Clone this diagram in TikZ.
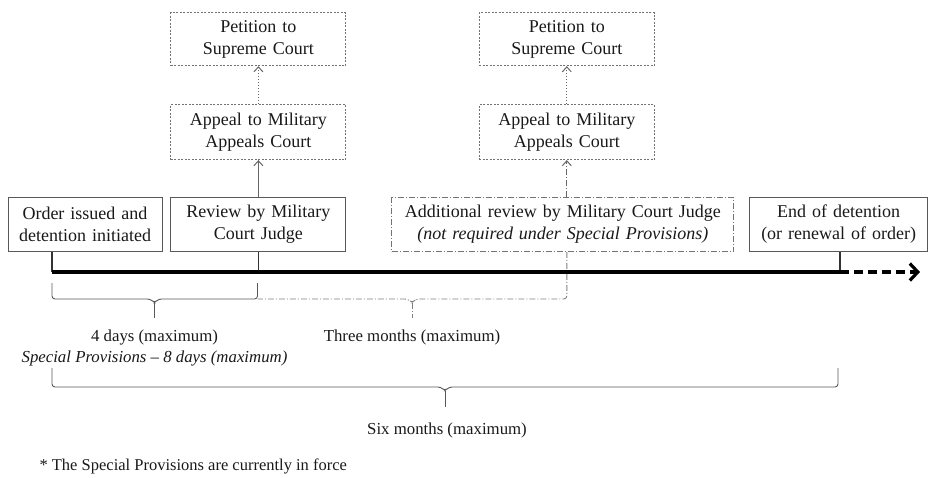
\documentclass[tikz,border=0pt]{standalone}
\usepackage{fontspec}
\setmainfont{Liberation Serif}
\usetikzlibrary{positioning, arrows.meta}

\begin{document}
\begin{tikzpicture}[x=1pt, y=-1pt, node distance=37pt and 8pt,
    box/.style={rectangle, draw=black!65, line width=0.9pt, text=black!90, align=center, minimum height=54pt, inner xsep=0pt, font=\fontsize{18}{22}\selectfont},
    appealbox/.style={box, draw=black!55, dash pattern=on 2pt off 1.5pt},
    optbox/.style={box, draw=black!55, dash pattern=on 6pt off 2pt on 1pt off 2pt},
    lbl/.style={text=black!90, align=center, font=\fontsize{16.8}{21}\selectfont},
    stub/.style={draw=black!80, line width=1.2pt},
    timeline/.style={draw=black, line width=3.2pt},
    bracketline/.style={draw=black!65, line width=0.9pt, rounded corners=3pt},
    optline/.style={bracketline, draw=black!50, dash pattern=on 6pt off 2pt on 1pt off 2pt},
    link/.style={draw=black!60, line width=0.8pt, -{Straight Barb[length=5pt,width=9pt,line width=1pt]}}]
    \useasboundingbox (0,0) rectangle (928,477);

    % boxes along the time line
    \node [box, text width=154pt] (order) at (85,224.5) {Order issued and\\detention initiated};
    \node [box, text width=175pt, right=8pt of order] (review) {Review by Military\\Court Judge};
    \node [optbox, text width=342pt, right=45pt of review] (addrev) {Additional review by Military Court Judge\\\textit{(not required under Special Provisions)}};
    \node [box, text width=178pt, right=15pt of addrev] (endbox) {End of detention\\(or renewal of order)};

    % appeals
    \node [appealbox, text width=175pt, minimum height=55pt, above=of review] (appealL) {Appeal to Military\\Appeals Court};
    \node [appealbox, text width=175pt, minimum height=53pt, above=38pt of appealL] (petitionL) {Petition to\\Supreme Court};
    \node [appealbox, text width=175pt, minimum height=55pt, above=of addrev, xshift=4pt] (appealR) {Appeal to Military\\Appeals Court};
    \node [appealbox, text width=175pt, minimum height=53pt, above=38pt of appealR] (petitionR) {Petition to\\Supreme Court};

    \path [link] (review.north) -- (appealL.south);
    \path [link, dash pattern=on 1.5pt off 1.5pt] (appealL.north) -- (petitionL.south);
    \path [link, dash pattern=on 6pt off 2pt on 1pt off 2pt] (appealR.south |- addrev.north) -- (appealR.south);
    \path [link, dash pattern=on 1.5pt off 1.5pt] (appealR.north) -- (petitionR.south);

    % time line
    \coordinate (t0) at (52,272);
    \coordinate (tend) at (840,272);
    \coordinate (tip) at (920,272);

    % three months (dash-dot)
    \draw [optline] (appealR.south |- addrev.south) -- (appealR.south |- 0,299) -- (416,299) -- (412,303) -- (408,299) -- (257.5,299);
    \draw [optline] (412,303) -- (412,318);

    \draw [stub] (t0 |- order.south) -- (t0);
    \draw [stub] (review.south) -- (review.south |- t0);
    \draw [stub] (tend |- endbox.south) -- (tend);
    \draw [timeline] (t0) -- (tend);
    \draw [timeline, dash pattern=on 9pt off 5pt, -{Straight Barb[length=8pt,width=17pt]}] (tend) -- (tip);

    % four days
    \draw [bracketline] (52,283) -- (52,299) -- (150.5,299) -- (154.5,303) -- (158.5,299) -- (257.5,299) -- (257.5,283);
    \draw [bracketline] (154.5,303) -- (154.5,318);
    % six months
    \draw [bracketline] (52,368) -- (52,387) -- (441,387) -- (445,391) -- (449,387) -- (838,387) -- (838,368);
    \draw [bracketline] (445,391) -- (445,407);

    \node [lbl] (fourdays) at (154.5,347.5) {4 days (maximum)\\\textit{Special Provisions -- 8 days (maximum)}};
    \node [lbl] (threemonths) at (412,337) {Three months (maximum)};
    \node [lbl] (sixmonths) at (447,430) {Six months (maximum)};
    \node [lbl, anchor=west, font=\fontsize{16.5}{20}\selectfont] (footnote) at (36,466) {* The Special Provisions are currently in force};
\end{tikzpicture}
\end{document}
